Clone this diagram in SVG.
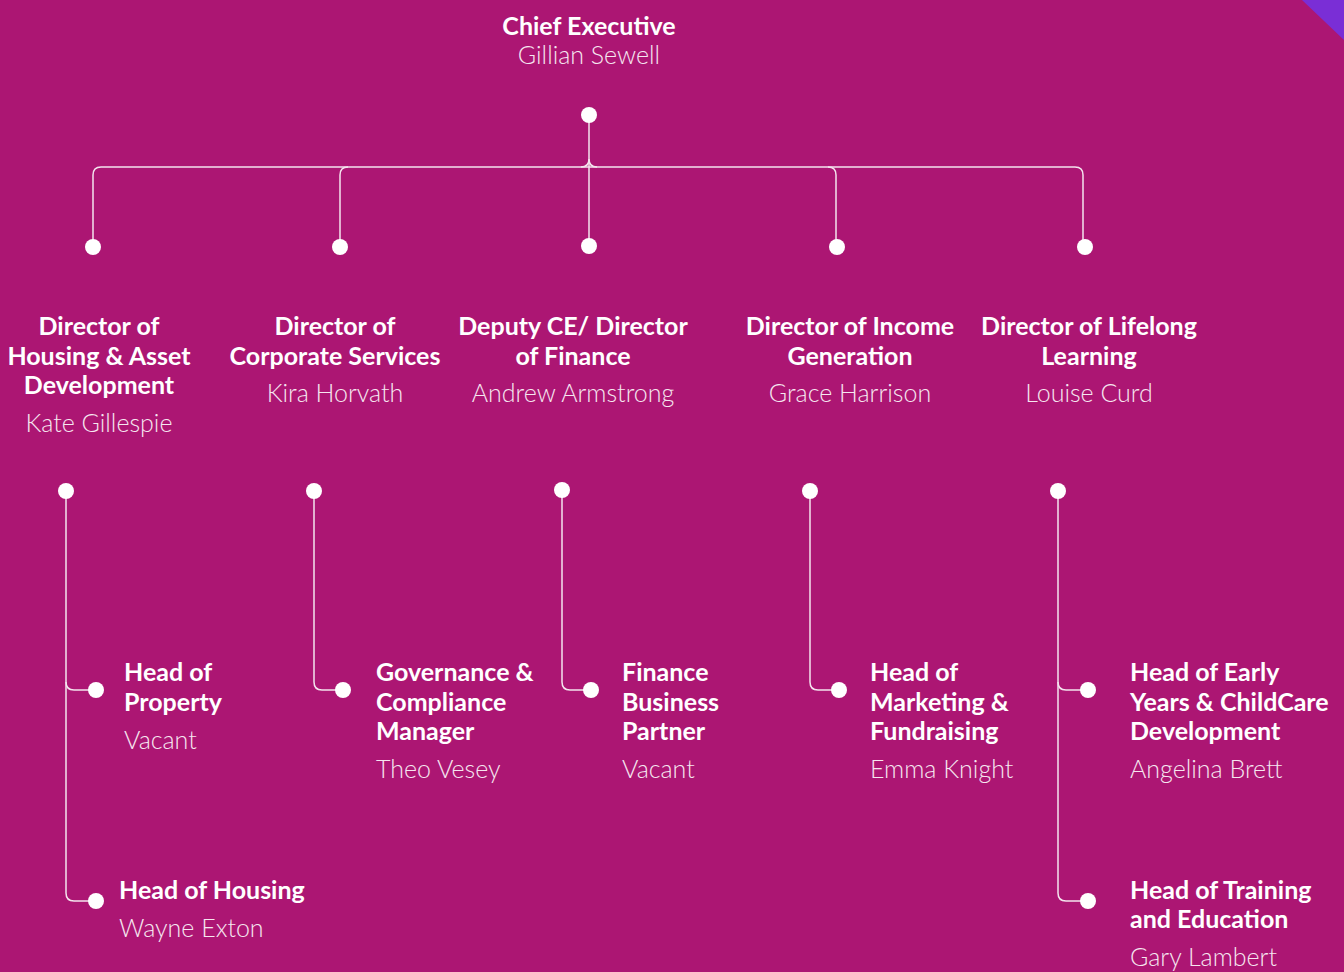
<svg xmlns="http://www.w3.org/2000/svg" width="1344" height="972" viewBox="0 0 1344 972">
<style>
.t{font-family:Lato,"Noto Sans","Liberation Sans",sans-serif;font-size:25px;font-weight:700;fill:#fff}
.n{font-family:Lato,"Noto Sans","Liberation Sans",sans-serif;font-size:25px;font-weight:300;fill:#f6e6f0}
.c{text-anchor:middle}
.ln{fill:none;stroke:#f4e4ee;stroke-width:1.5}
.d{fill:#fff}
</style>
<rect width="1344" height="972" fill="#ac1673"/>
<polygon points="1302,0 1344,0 1344,40" fill="#7a2ed6"/>
<g id="connectors">
<path class="ln" d="M589,115 V246"/>
<path class="ln" d="M93,247 V175 Q93,167 101,167 H1075 Q1083,167 1083,175 V247"/>
<path class="ln" d="M340,247 V175 Q340,167 348,167"/>
<path class="ln" d="M836,247 V175 Q836,167 828,167"/>
<path class="ln" d="M581,167 Q589,167 589,159 Q589,167 597,167"/>
<path class="ln" d="M66,491 V893 Q66,901 74,901 H96"/>
<path class="ln" d="M66,682 Q66,690 74,690 H96"/>
<path class="ln" d="M314,491 V682 Q314,690 322,690 H343"/>
<path class="ln" d="M562,490 V682 Q562,690 570,690 H591"/>
<path class="ln" d="M810,491 V682 Q810,690 818,690 H839"/>
<path class="ln" d="M1058,491 V893 Q1058,901 1066,901 H1088"/>
<path class="ln" d="M1058,682 Q1058,690 1066,690 H1088"/>
</g>
<g id="ceo">
<circle class="d" cx="589" cy="115" r="8"/>
<text class="t c" x="589" y="35">Chief Executive</text>
<text class="n c" x="589" y="64">Gillian Sewell</text>
</g>
<g id="dir-housing">
<circle class="d" cx="93" cy="247" r="8"/>
<circle class="d" cx="66" cy="491" r="8"/>
<text class="t c" x="99" y="335">Director of</text>
<text class="t c" x="99" y="365">Housing &amp; Asset</text>
<text class="t c" x="99" y="394">Development</text>
<text class="n c" x="99" y="432">Kate Gillespie</text>
</g>
<g id="dir-corporate">
<circle class="d" cx="340" cy="247" r="8"/>
<circle class="d" cx="314" cy="491" r="8"/>
<text class="t c" x="335" y="335">Director of</text>
<text class="t c" x="335" y="365">Corporate Services</text>
<text class="n c" x="335" y="402">Kira Horvath</text>
</g>
<g id="dir-finance">
<circle class="d" cx="589" cy="246" r="8"/>
<circle class="d" cx="562" cy="490" r="8"/>
<text class="t c" x="573" y="335">Deputy CE/ Director</text>
<text class="t c" x="573" y="365">of Finance</text>
<text class="n c" x="573" y="402">Andrew Armstrong</text>
</g>
<g id="dir-income">
<circle class="d" cx="837" cy="247" r="8"/>
<circle class="d" cx="810" cy="491" r="8"/>
<text class="t c" x="850" y="335">Director of Income</text>
<text class="t c" x="850" y="365">Generation</text>
<text class="n c" x="850" y="402">Grace Harrison</text>
</g>
<g id="dir-lifelong">
<circle class="d" cx="1085" cy="247" r="8"/>
<circle class="d" cx="1058" cy="491" r="8"/>
<text class="t c" x="1089" y="335">Director of Lifelong</text>
<text class="t c" x="1089" y="365">Learning</text>
<text class="n c" x="1089" y="402">Louise Curd</text>
</g>
<g id="head-property">
<circle class="d" cx="96" cy="690" r="8"/>
<text class="t" x="124" y="681">Head of</text>
<text class="t" x="124" y="711">Property</text>
<text class="n" x="124" y="749">Vacant</text>
</g>
<g id="head-housing">
<circle class="d" cx="96" cy="901" r="8"/>
<text class="t" x="119" y="899">Head of Housing</text>
<text class="n" x="119" y="937">Wayne Exton</text>
</g>
<g id="governance">
<circle class="d" cx="343" cy="690" r="8"/>
<text class="t" x="376" y="681">Governance &amp;</text>
<text class="t" x="376" y="711">Compliance</text>
<text class="t" x="376" y="740">Manager</text>
<text class="n" x="376" y="778">Theo Vesey</text>
</g>
<g id="finance-partner">
<circle class="d" cx="591" cy="690" r="8"/>
<text class="t" x="622" y="681">Finance</text>
<text class="t" x="622" y="711">Business</text>
<text class="t" x="622" y="740">Partner</text>
<text class="n" x="622" y="778">Vacant</text>
</g>
<g id="head-marketing">
<circle class="d" cx="839" cy="690" r="8"/>
<text class="t" x="870" y="681">Head of</text>
<text class="t" x="870" y="711">Marketing &amp;</text>
<text class="t" x="870" y="740">Fundraising</text>
<text class="n" x="870" y="778">Emma Knight</text>
</g>
<g id="head-early-years">
<circle class="d" cx="1088" cy="690" r="8"/>
<text class="t" x="1130" y="681">Head of Early</text>
<text class="t" x="1130" y="711">Years &amp; ChildCare</text>
<text class="t" x="1130" y="740">Development</text>
<text class="n" x="1130" y="778">Angelina Brett</text>
</g>
<g id="head-training">
<circle class="d" cx="1088" cy="901" r="8"/>
<text class="t" x="1130" y="899">Head of Training</text>
<text class="t" x="1130" y="928">and Education</text>
<text class="n" x="1130" y="966">Gary Lambert</text>
</g>
</svg>
